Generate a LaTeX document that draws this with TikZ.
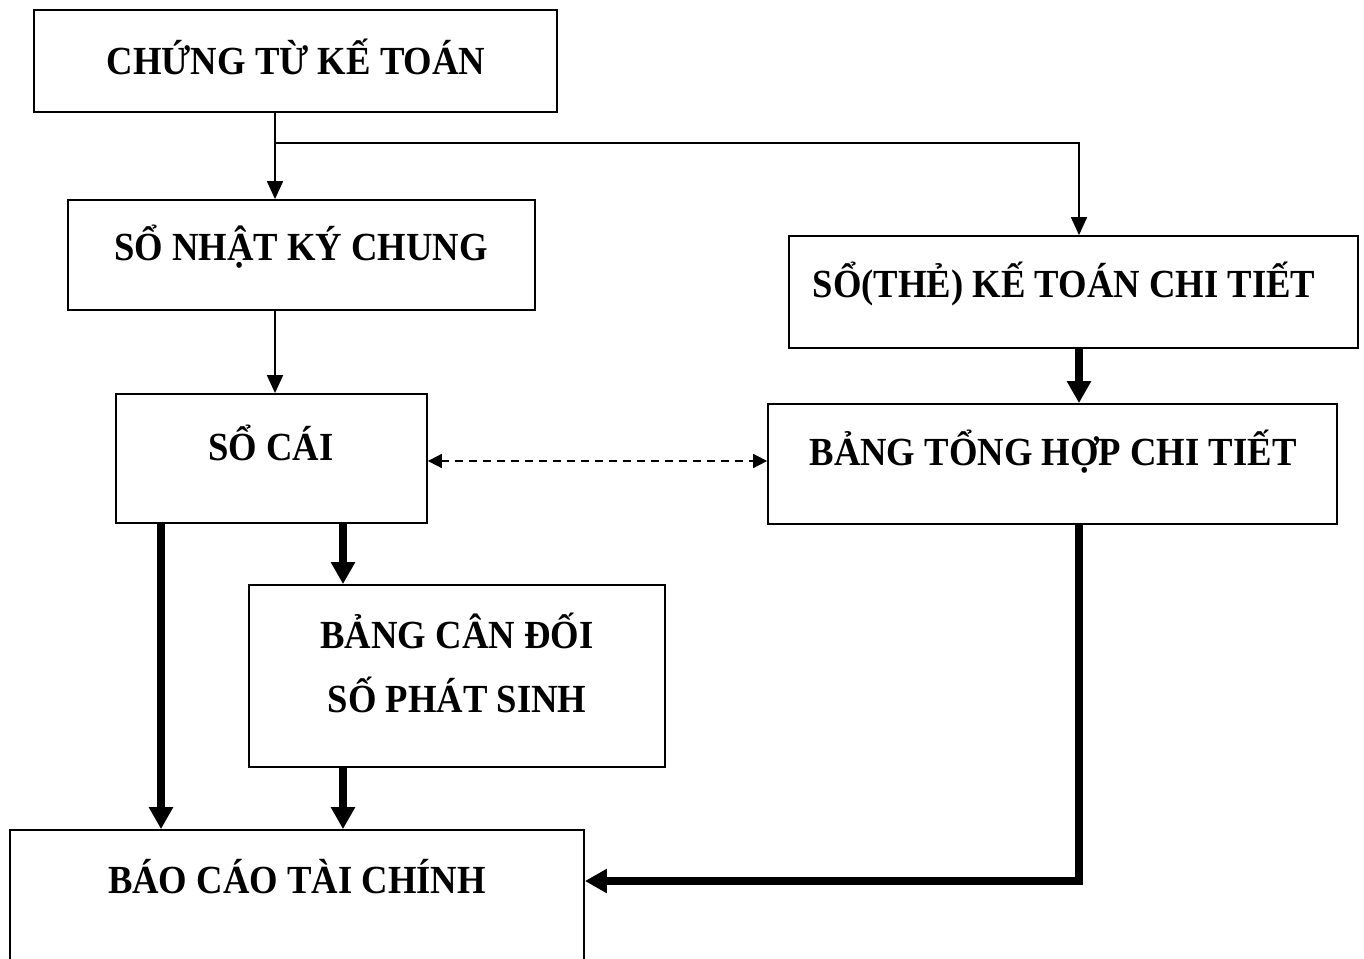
\documentclass[tikz,border=0pt]{standalone}
\usepackage{fontspec}
\setmainfont[FakeStretch=0.92]{Liberation Serif}
\usetikzlibrary{arrows.meta}
\begin{document}
\begin{tikzpicture}[x=1bp,y=-1bp,
  box/.style={draw, line width=1.8bp, rectangle, inner sep=0pt},
  txt/.style={font=\fontsize{40}{64}\selectfont\bfseries, inner sep=0pt, align=center},
  thinarrow/.style={line width=1.8bp, -{Triangle[length=18bp,width=16bp]}},
  thickarrow/.style={line width=7.5bp, line join=miter, -{Triangle[length=22bp,width=23bp]}},
  dasharrow/.style={line width=1.8bp, dash pattern=on 8bp off 6bp, {Triangle[length=14bp,width=14bp]}-{Triangle[length=14bp,width=14bp]}}
]
\clip (0,0) rectangle (1364,958);
\fill[white] (0,0) rectangle (1364,958);
% boxes
\node[box, minimum width=523bp, minimum height=102bp] (A) at (295.5,61) {};
\node[txt] (At) at (296,57) {CHỨNG TỪ KẾ TOÁN};
\node[box, minimum width=467bp, minimum height=110bp] (B) at (301.5,255) {};
\node[txt] (Bt) at (301,247) {SỔ NHẬT KÝ CHUNG};
\node[box, minimum width=569bp, minimum height=112bp] (C) at (1073.5,292) {};
\node[txt] (Ct) at (1064,284) {SỔ(THẺ) KẾ TOÁN CHI TIẾT};
\node[box, minimum width=311bp, minimum height=129bp] (D) at (271.5,458.5) {};
\node[txt] (Dt) at (271,443) {SỔ CÁI};
\node[box, minimum width=569bp, minimum height=120bp] (E) at (1052.5,464) {};
\node[txt] (Et) at (1053,452) {BẢNG TỔNG HỢP CHI TIẾT};
\node[box, minimum width=416bp, minimum height=182bp] (F) at (457,676) {};
\node[txt] (Ft) at (457,663) {BẢNG CÂN ĐỐI\\SỐ PHÁT SINH};
\node[box, minimum width=574bp, minimum height=160bp] (G) at (297,910) {};
\node[txt] (Gt) at (297,877) {BÁO CÁO TÀI CHÍNH};
% helper coordinates
\coordinate (j1) at (275,143);
\coordinate (j2) at (1079,143);
\coordinate (k1) at (161,0);
\coordinate (k2) at (343,0);
\coordinate (dy) at (0,461);
\coordinate (gy) at (0,881);
% connectors
\draw[line width=1.8bp] (A.south -| j1) -- (j1);
\draw[thinarrow] (j1) -- (B.north -| j1);
\draw[thinarrow] (j1) -- (j2) -- (C.north -| j2);
\draw[thinarrow] (B.south -| j1) -- (D.north -| j1);
\draw[thickarrow] (C.south -| j2) -- (E.north -| j2);
\draw[dasharrow] (D.east |- dy) -- (E.west |- dy);
\draw[thickarrow] (D.south -| k1) -- (G.north -| k1);
\draw[thickarrow] (D.south -| k2) -- (F.north -| k2);
\draw[thickarrow] (F.south -| k2) -- (G.north -| k2);
\draw[thickarrow] (E.south -| j2) |- (G.east |- gy);
\end{tikzpicture}
\end{document}
